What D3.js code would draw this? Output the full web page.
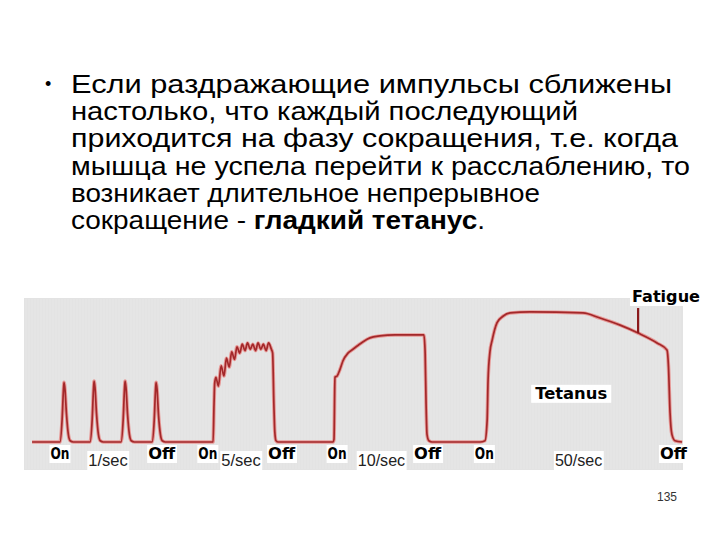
<!DOCTYPE html>
<html>
<head>
<meta charset="utf-8">
<script src="https://cdn.jsdelivr.net/npm/d3@7"></script>
<style>
  html, body { margin:0; padding:0; background:#fff; }
  svg { display:block; }
  .body-text { font-family:"Liberation Sans", Arial, sans-serif; font-size:25px; fill:#000; }
  .tag { font-family:"DejaVu Sans", sans-serif; font-weight:bold; fill:#000; }
  .rate { font-family:"Liberation Sans", Arial, sans-serif; fill:#222; }
</style>
</head>
<body>
<svg id="slide"></svg>
<script>
const W = 720, H = 540;

// slide text
const LINES = [
  'Если раздражающие импульсы сближены',
  'настолько, что каждый последующий',
  'приходится на фазу сокращения, т.е. когда',
  'мышца не успела перейти к расслаблению, то',
  'возникает длительное непрерывное',
];
const LAST_PLAIN = 'сокращение - ';
const LAST_BOLD = 'гладкий тетанус';
const LAST_END = '.';
const PAGE = '135';

// muscle tension trace: [time, s ; tension, % of max]
const TRACE = [
  [0.26,0],
  [1.16,0],[1.23,18],[1.27,40],[1.29,47],[1.32,42],[1.37,22],[1.43,6],[1.49,1],[1.59,0],
  [2.13,0],[2.20,18],[2.24,41],[2.26,48],[2.29,43],[2.34,22],[2.40,6],[2.46,1],[2.56,0],
  [3.13,0],[3.20,18],[3.24,41],[3.26,48],[3.29,43],[3.34,22],[3.40,6],[3.46,1],[3.56,0],
  [4.13,0],[4.20,17],[4.24,40],[4.26,47],[4.29,42],[4.34,21],[4.40,6],[4.46,1],[4.56,0],
  [6.10,0],[6.13,30],[6.15,46],[6.19,51],[6.27,44],[6.36,60],[6.45,52],[6.53,66],[6.62,59],
  [6.70,71],[6.79,65],[6.87,75],[6.96,70],[7.04,77],[7.13,72],[7.21,78],[7.30,73],[7.38,77],
  [7.47,72],[7.55,78],[7.64,73],[7.72,77],[7.81,72],[7.89,78],[7.98,73],[8.02,70],[8.06,30],
  [8.09,8],[8.13,1],[8.20,0],
  [9.97,0],[10.0,2],[10.03,51],[10.10,52],[10.19,57],[10.29,64],[10.45,70],[10.61,73],[10.77,76],
  [10.94,79],[11.16,82],[11.48,83.5],[11.97,84.3],[12.45,84.3],[12.90,84.3],[12.94,70],[12.97,30],
  [13.0,6],[13.06,1],[13.16,0],
  [14.71,0],[14.87,1],[14.94,17],[14.97,49],[15.03,71],[15.10,80],[15.26,94],[15.45,99],[15.68,101.6],
  [16.32,102.4],[18.03,101.6],[18.58,97.6],[19.23,92],[19.81,85.8],[20.42,78],[20.74,72.4],
  [20.79,59],[20.84,23],[20.90,6],[21.0,1],[21.23,0]
];

// stimulus labels under the trace
const SWITCH_TEXT = ['On','Off','On','Off','On','Off','On','Off'];
const SWITCH_T    = [1.16, 4.44, 5.93, 8.31, 10.1, 13.02, 14.85, 20.95];
const RATE_TEXT = ['1/sec','5/sec','10/sec','50/sec'];
const RATE_T    = [2.71, 7.0, 11.53, 17.89];

const TETANUS = {text:'Tetanus', t:17.65, f:34};
const FATIGUE = {text:'Fatigue', t:19.81, f0:85.8, f1:105.5};

const svg = d3.select('#slide').attr('width',W).attr('height',H);

// ---- text block
const LINE_W = [601, 507, 607, 619, 469, 414];
const tx = 71, ty0 = 93, lh = 27.2;
svg.append('text').attr('x',45).attr('y',ty0-3).attr('font-family','Liberation Sans, Arial')
  .attr('font-size',18).text('•');
LINES.forEach((s,i) => {
  svg.append('text').attr('class','body-text').attr('x',tx).attr('y',ty0+i*lh)
    .attr('textLength',LINE_W[i]).attr('lengthAdjust','spacingAndGlyphs').text(s);
});
const last = svg.append('text').attr('class','body-text').attr('x',tx).attr('y',ty0+5*lh)
  .attr('textLength',LINE_W[5]).attr('lengthAdjust','spacingAndGlyphs');
last.append('tspan').text(LAST_PLAIN);
last.append('tspan').attr('font-weight','bold').text(LAST_BOLD);
last.append('tspan').text(LAST_END);

// ---- chart
const x = d3.scaleLinear().domain([0, 21.29]).range([24, 684]);
const y = d3.scaleLinear().domain([0, 100]).range([442, 315]);

svg.append('rect').attr('x',24).attr('y',298).attr('width',659).attr('height',172)
  .attr('fill','#e3e3e3');

// faint paper texture
const tex = svg.append('g').attr('opacity',.22);
d3.range(26, 683, 3).forEach(px => {
  tex.append('line').attr('x1',px).attr('x2',px).attr('y1',299).attr('y2',469)
    .attr('stroke','#f6f6f6').attr('stroke-width',1);
});

const line = d3.line().x(d => x(d[0])).y(d => y(d[1])).curve(d3.curveMonotoneX);
svg.append('path').datum(TRACE).attr('d',line).attr('fill','none')
  .attr('stroke','#e79a98').attr('stroke-width',3.6).attr('stroke-linejoin','round');
svg.append('path').datum(TRACE).attr('d',line).attr('fill','none')
  .attr('stroke','#a3282a').attr('stroke-width',1.7).attr('stroke-linejoin','round');

// fatigue marker
svg.append('line').attr('x1',x(FATIGUE.t)).attr('x2',x(FATIGUE.t))
  .attr('y1',y(FATIGUE.f1)).attr('y2',y(FATIGUE.f0))
  .attr('stroke','#8a1a1c').attr('stroke-width',2.2);

function boxed(sel, pad) {
  const b = sel.node().getBBox();
  svg.insert('rect', () => sel.node()).attr('x',b.x-pad).attr('y',b.y)
    .attr('width',b.width+2*pad).attr('height',b.height).attr('fill','#fff');
}

SWITCH_TEXT.forEach((s,i) => {
  const t = svg.append('text').attr('class','tag').attr('x',x(SWITCH_T[i])).attr('y',y(0)+17)
    .attr('text-anchor','middle').attr('font-size',15)
    .attr('textLength', s.length === 2 ? 19 : 27).attr('lengthAdjust','spacingAndGlyphs').text(s);
  boxed(t, 1);
});
RATE_TEXT.forEach((s,i) => {
  const t = svg.append('text').attr('class','rate').attr('x',x(RATE_T[i])).attr('y',y(0)+24)
    .attr('text-anchor','middle').attr('font-size',17)
    .attr('textLength', s.length*7.9).attr('lengthAdjust','spacingAndGlyphs').text(s);
  boxed(t, 1);
});

const tt = svg.append('text').attr('class','tag').attr('x',x(TETANUS.t)).attr('y',y(TETANUS.f))
  .attr('text-anchor','middle').attr('font-size',15)
  .attr('textLength',72).attr('lengthAdjust','spacingAndGlyphs').text(TETANUS.text);
boxed(tt, 4);
const ft = svg.append('text').attr('class','tag').attr('x',632).attr('y',302)
  .attr('font-size',16)
  .attr('textLength',68).attr('lengthAdjust','spacingAndGlyphs').text(FATIGUE.text);
boxed(ft, 2);

svg.append('text').attr('x',677).attr('y',501).attr('text-anchor','end')
  .attr('font-family','Liberation Sans, Arial').attr('font-size',12).attr('fill','#333').text(PAGE);
</script>
</body>
</html>
